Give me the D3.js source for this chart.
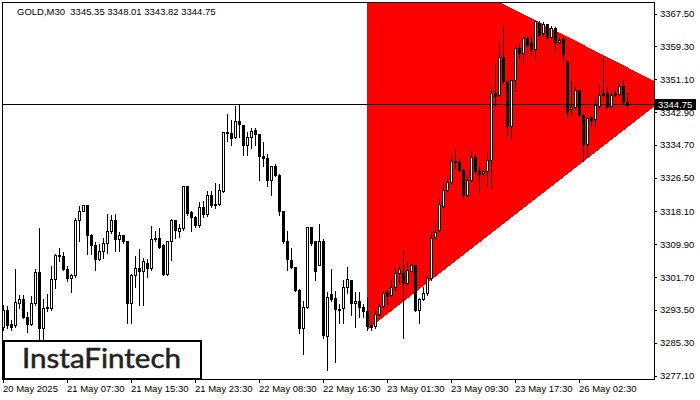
<!DOCTYPE html>
<html><head><meta charset="utf-8">
<script src="https://cdn.jsdelivr.net/npm/d3@7/dist/d3.min.js"></script>
<style>html,body{margin:0;padding:0;background:#fff;overflow:hidden}svg{display:block}</style>
</head><body>
<script>
// ---- data ----
const symbolLabel = "GOLD,M30";
const openP = [3289.1,3293.5,3290.0,3289.75,3295.2,3296.25,3291.6,3289.9,3295.2,3302.9,
3288.9,3293.9,3293.9,3301.25,3307.25,3307.0,3303.75,3301.4,3302.25,3316.0,
3318.25,3319.75,3312.25,3309.6,3306.25,3308.1,3310.2,3313.1,3316.0,3311.25,
3312.25,3310.6,3295.2,3302.25,3303.9,3303.1,3305.3,3303.9,3311.2,3311.4,
3309.6,3302.4,3310.6,3315.9,3313.25,3313.9,3324.3,3317.9,3316.8,3314.75,
3319.1,3317.4,3322.25,3319.75,3319.9,3323.1,3337.9,3337.6,3336.6,3340.75,
3339.75,3334.75,3336.6,3338.3,3337.5,3332.0,3331.4,3326.0,3329.5,3327.25,
3318.25,3310.75,3306.0,3304.1,3298.5,3289.0,3294.3,3314.1,3310.6,3304.75,
3310.6,3287.0,3297.5,3296.4,3293.6,3293.9,3299.2,3301.0,3295.2,3295.8,
3294.2,3293.3,3289.75,3289.5,3292.5,3294.5,3298.0,3297.25,3299.3,3302.7,
3302.8,3300.3,3303.3,3304.7,3293.5,3296.2,3297.7,3301.4,3311.6,3313.5,
3319.5,3323.3,3325.3,3330.5,3330.4,3328.5,3322.25,3326.0,3331.7,3328.1,
3327.7,3328.1,3330.8,3347.7,3347.25,3356.7,3350.6,3339.5,3351.0,3358.9,
3357.7,3361.4,3360.2,3358.7,3365.2,3362.7,3365.0,3361.7,3363.9,3360.4,
3361.2,3355.3,3343.75,3344.2,3348.5,3342.25,3335.0,3341.7,3341.2,3344.5,
3347.7,3347.7,3344.5,3347.6,3347.4,3349.5,3345.35];
const highP = [3294.9,3294.75,3291.2,3303.9,3297.4,3297.4,3293.1,3297.25,3303.9,3314.3,
3296.4,3297.7,3304.75,3307.7,3309.3,3308.1,3304.75,3302.7,3316.8,3319.75,
3320.0,3319.9,3312.7,3310.6,3310.2,3311.8,3317.7,3317.4,3317.7,3313.1,
3312.4,3311.0,3302.7,3307.25,3308.9,3306.8,3306.4,3314.75,3313.5,3314.1,
3310.2,3311.0,3316.4,3316.25,3315.2,3324.75,3324.6,3318.5,3317.25,3320.6,
3320.9,3323.5,3323.5,3325.4,3325.2,3338.1,3342.7,3341.25,3344.75,3344.9,
3339.9,3338.1,3339.2,3339.2,3337.7,3335.6,3332.7,3329.75,3330.2,3327.7,
3318.5,3313.5,3309.3,3304.3,3298.9,3296.0,3314.3,3314.3,3311.0,3315.2,
3311.4,3298.1,3304.0,3298.5,3295.2,3301.2,3304.5,3301.2,3298.3,3298.3,
3295.2,3297.0,3290.6,3293.7,3295.3,3298.5,3298.9,3301.2,3304.75,3305.0,
3308.5,3305.6,3305.2,3305.0,3296.8,3299.5,3302.0,3313.1,3315.6,3321.8,
3325.3,3327.25,3332.25,3334.0,3332.0,3328.9,3326.8,3333.7,3332.5,3329.3,
3328.9,3333.1,3349.5,3355.2,3360.2,3364.3,3351.0,3351.4,3359.3,3360.2,
3362.25,3362.0,3362.25,3365.8,3365.8,3365.6,3365.2,3364.75,3364.3,3361.7,
3361.8,3356.0,3351.0,3349.75,3348.7,3342.7,3341.8,3342.25,3347.25,3350.2,
3356.7,3349.3,3348.5,3348.9,3350.6,3351.4,3348.01];
const lowP = [3288.5,3288.9,3288.5,3289.3,3294.0,3291.4,3287.9,3289.75,3294.75,3286.0,
3286.0,3293.1,3293.5,3299.0,3305.6,3303.5,3300.6,3297.9,3301.8,3310.6,
3318.1,3307.4,3307.4,3303.5,3306.0,3306.4,3307.7,3312.7,3308.1,3308.1,
3310.2,3290.2,3290.2,3299.3,3294.75,3294.75,3301.8,3303.5,3310.6,3308.9,
3302.25,3302.25,3306.0,3311.4,3311.8,3313.5,3317.25,3313.1,3314.3,3314.3,
3316.6,3316.9,3319.3,3318.9,3319.75,3322.9,3335.6,3334.75,3336.4,3336.6,
3332.25,3332.1,3333.9,3334.75,3325.8,3329.3,3324.3,3322.25,3326.8,3317.1,
3310.2,3303.5,3303.9,3298.1,3287.7,3282.4,3293.9,3309.75,3301.0,3304.6,
3286.4,3278.5,3295.8,3280.5,3290.2,3290.3,3297.7,3292.25,3289.3,3291.8,
3291.8,3288.5,3288.5,3288.9,3292.0,3294.3,3294.75,3296.7,3298.5,3300.3,
3286.4,3299.9,3303.1,3293.3,3290.2,3296.0,3297.25,3301.0,3311.4,3313.3,
3319.3,3323.1,3325.2,3329.0,3328.0,3321.8,3321.8,3325.6,3327.7,3322.8,
3327.25,3324.75,3323.9,3344.3,3346.8,3350.2,3336.7,3336.2,3348.1,3356.4,
3355.2,3359.3,3357.25,3356.0,3361.8,3362.25,3361.2,3361.4,3358.1,3360.2,
3355.6,3341.5,3342.25,3343.9,3341.8,3330.6,3332.0,3339.5,3338.9,3343.9,
3346.8,3343.9,3344.2,3346.8,3347.25,3345.2,3343.82];
const closeP = [3293.5,3289.75,3289.2,3295.4,3296.25,3291.7,3289.9,3295.2,3302.9,3288.9,
3293.9,3294.1,3301.25,3307.25,3307.0,3303.75,3301.4,3302.25,3316.0,3318.25,
3319.75,3312.25,3309.6,3306.25,3308.1,3310.2,3313.1,3316.0,3311.2,3312.25,
3310.6,3295.2,3302.25,3303.9,3303.3,3305.8,3303.9,3311.25,3311.4,3309.3,
3302.4,3310.6,3315.9,3313.5,3313.9,3324.3,3317.7,3316.8,3314.75,3319.1,
3317.4,3322.25,3319.75,3319.9,3323.5,3337.9,3337.6,3336.4,3340.75,3339.9,
3334.75,3336.6,3338.1,3337.5,3331.8,3331.4,3326.0,3329.5,3327.25,3318.1,
3310.6,3306.25,3304.1,3298.5,3289.0,3294.3,3314.1,3310.2,3303.25,3310.6,
3287.25,3296.8,3296.3,3293.6,3293.4,3299.2,3301.2,3295.2,3295.8,3294.2,
3293.1,3289.5,3289.3,3292.5,3294.5,3297.7,3297.0,3299.3,3302.7,3303.7,
3300.3,3303.5,3304.7,3293.5,3296.2,3297.8,3301.4,3311.4,3312.9,3320.0,
3323.3,3325.3,3330.6,3330.75,3328.5,3322.25,3326.0,3331.7,3328.1,3327.5,
3328.1,3330.8,3347.7,3347.0,3356.7,3350.6,3339.5,3351.0,3358.9,3357.7,
3361.4,3359.75,3358.7,3365.6,3362.25,3365.0,3361.7,3363.9,3360.3,3361.0,
3357.4,3342.8,3344.2,3348.5,3342.25,3335.0,3341.4,3341.0,3344.6,3347.25,
3347.25,3344.2,3347.1,3347.1,3349.5,3345.3,3344.75];
const yTickValues = [3367.50,3359.30,3351.10,3342.90,3334.70,3326.50,3318.10,3309.90,3301.70,3293.50,3285.30,3277.10];
const xTickBars = [0,16,32,48,64,80,96,112,128,144];
const xTickLabels = ["20 May 2025","21 May 07:30","21 May 15:30","21 May 23:30","22 May 08:30","22 May 16:30","23 May 01:30","23 May 09:30","23 May 17:30","26 May 02:30"];
const patternBars = [91, 91, 167.7];
const patternPrices = [3387.3, 3288.5, 3348.1];
const logoText = "InstaFintech";

// ---- chart ----
const W = 700, H = 400;
const n = openP.length;
const last = n - 1;
const candles = d3.range(n).map(i => ({i, o: openP[i], h: highP[i], l: lowP[i], c: closeP[i]}));
const svg = d3.select("body").append("svg").attr("width", W).attr("height", H)
  .style("font-family", "'Liberation Sans', Arial, sans-serif");
svg.append("rect").attr("width", W).attr("height", H).attr("fill", "#fff");

const plotL = 2, plotR = 654, plotT = 2, plotB = 379;
const x = d3.scaleLinear().domain([-0.25, 162.75]).range([plotL, plotR]);
const y = d3.scaleLinear().domain([3277.1, 3367.5]).range([375.5, 13.5]);

svg.append("clipPath").attr("id", "plotclip").append("rect")
  .attr("x", plotL + 1).attr("y", plotT + 1).attr("width", plotR - plotL - 1).attr("height", plotB - plotT - 1);
const pg = svg.append("g").attr("clip-path", "url(#plotclip)");

// triangle pattern
pg.append("path")
  .datum(d3.range(patternBars.length))
  .attr("d", d3.line().x(k => x(patternBars[k])).y(k => y(patternPrices[k])).curve(d3.curveLinearClosed))
  .attr("fill", "#ff0000").attr("shape-rendering", "crispEdges");

// current price line
const lastY = Math.floor(y(closeP[last])) + 0.5;
pg.append("line").attr("x1", plotL).attr("x2", plotR).attr("y1", lastY).attr("y2", lastY)
  .attr("stroke", "#000").attr("stroke-width", 1).attr("shape-rendering", "crispEdges");

const px = v => Math.round(v) + 0.5;
// wicks
pg.selectAll("line.wick").data(candles).join("line").attr("class", "wick")
  .attr("x1", d => px(x(d.i))).attr("x2", d => px(x(d.i)))
  .attr("y1", d => px(y(d.h))).attr("y2", d => px(y(d.l)))
  .attr("stroke", "#000").attr("stroke-width", 1).attr("shape-rendering", "crispEdges");
// bodies
pg.selectAll("path.body").data(candles).join("path").attr("class", "body")
  .attr("d", d => {
    const cx = px(x(d.i));
    const t = px(y(Math.max(d.o, d.c))), b = px(y(Math.min(d.o, d.c)));
    return `M${cx - 1},${t}H${cx + 1}V${b}H${cx - 1}Z`;
  })
  .attr("fill", d => d.c >= d.o ? "#fff" : "#000")
  .attr("stroke", "#000").attr("stroke-width", 1).attr("shape-rendering", "crispEdges");

// frame
svg.append("rect").attr("x", plotL + 0.5).attr("y", plotT + 0.5)
  .attr("width", plotR - plotL).attr("height", plotB - plotT)
  .attr("fill", "none").attr("stroke", "#000").attr("shape-rendering", "crispEdges");

// y axis
const yAxis = svg.append("g").attr("transform", `translate(${plotR},0)`)
  .call(d3.axisRight(y).tickValues(yTickValues).tickSize(3).tickSizeOuter(0).tickFormat(d3.format(".2f")));
yAxis.select(".domain").remove();
yAxis.selectAll("line").attr("stroke", "#000").attr("shape-rendering", "crispEdges");
yAxis.selectAll("text").attr("x", 6).attr("fill", "#000")
  .style("font-family", "'Liberation Sans', Arial, sans-serif").style("font-size", "9.5px");

// x axis
const xAxis = svg.append("g").attr("transform", `translate(0,${plotB})`)
  .call(d3.axisBottom(x).tickValues(xTickBars).tickSize(4).tickSizeOuter(0).tickFormat((d, k) => xTickLabels[k]));
xAxis.select(".domain").remove();
xAxis.selectAll("line").attr("stroke", "#000").attr("shape-rendering", "crispEdges");
xAxis.selectAll("text").attr("text-anchor", "start").attr("x", -0.5).attr("y", 13).attr("dy", null).attr("fill", "#000")
  .style("font-family", "'Liberation Sans', Arial, sans-serif").style("font-size", "9.5px");

// current price box (drawn over the nearby axis label, as in the terminal)
const boxG = svg.append("g");
boxG.append("rect").attr("x", 655).attr("y", lastY - 5.5).attr("width", 41).attr("height", 11).attr("fill", "#000");
boxG.append("text").attr("x", 658).attr("y", lastY + 3.5).attr("fill", "#fff")
  .style("font-size", "9.5px").text(d3.format(".2f")(closeP[last]));

// header
svg.append("text").attr("x", 17).attr("y", 14.5).attr("fill", "#000").style("font-size", "9.5px")
  .attr("xml:space", "preserve")
  .text(`${symbolLabel}  ${[openP[last], highP[last], lowP[last], closeP[last]].map(d3.format(".2f")).join(" ")}`);

// logo
svg.append("rect").attr("x", 4).attr("y", 341).attr("width", 197).attr("height", 38)
  .attr("fill", "#fff").attr("stroke", "#000").attr("stroke-width", 2);
svg.append("text").attr("x", 22).attr("y", 368)
  .attr("textLength", 159).attr("lengthAdjust", "spacingAndGlyphs")
  .attr("fill", "#222").attr("stroke", "#222").attr("stroke-width", 0.5)
  .style("font-family", "Lato, 'Open Sans', sans-serif").style("font-size", "26px")
  .text(logoText);
</script>
</body></html>
